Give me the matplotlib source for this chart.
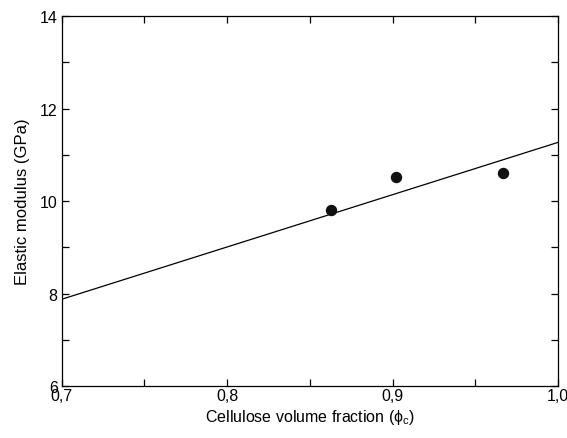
import matplotlib
matplotlib.use('Agg')
import matplotlib.pyplot as plt
from matplotlib.ticker import MultipleLocator, FuncFormatter

plt.rcParams['font.family'] = ['Liberation Sans', 'DejaVu Sans']
plt.rcParams['mathtext.fontset'] = 'custom'
plt.rcParams['mathtext.rm'] = 'Liberation Sans'
plt.rcParams['mathtext.it'] = 'Liberation Sans:italic'

# measured points
phi_c = [0.863, 0.902, 0.967]
modulus = [9.80, 10.52, 10.60]

# model line
line_x = [0.7, 1.0]
line_y = [7.88, 11.27]

fig = plt.figure(figsize=(5.67, 4.39), dpi=100)
ax = fig.add_axes([0.109, 0.118, 0.875, 0.843])

ax.plot(line_x, line_y, color='black', linewidth=0.9)
ax.plot(phi_c, modulus, 'o', color='#111111', markersize=7.2)

ax.set_xlim(0.7, 1.0)
ax.set_ylim(6, 14)
ax.xaxis.set_major_locator(MultipleLocator(0.1))
ax.xaxis.set_minor_locator(MultipleLocator(0.05))
ax.yaxis.set_major_locator(MultipleLocator(2))
ax.yaxis.set_minor_locator(MultipleLocator(1))
ax.xaxis.set_major_formatter(FuncFormatter(lambda v, p: ('%.1f' % v).replace('.', ',')))
ax.yaxis.set_major_formatter(FuncFormatter(lambda v, p: '%d' % v))

ax.tick_params(which='both', direction='in', top=True, right=True, labelsize=11.5, width=0.9)
ax.tick_params(which='major', length=5, pad=3)
ax.tick_params(which='minor', length=5)
ax.tick_params(axis='x', which='major', pad=1)
for s in ax.spines.values():
    s.set_linewidth(0.9)

ax.set_xlabel('Cellulose volume fraction (ϕ$_{\\mathrm{c}}$)', fontsize=11.5, labelpad=3)
ax.set_ylabel('Elastic modulus (GPa)', fontsize=12, labelpad=7)

fig.savefig('out.png', dpi=100)
